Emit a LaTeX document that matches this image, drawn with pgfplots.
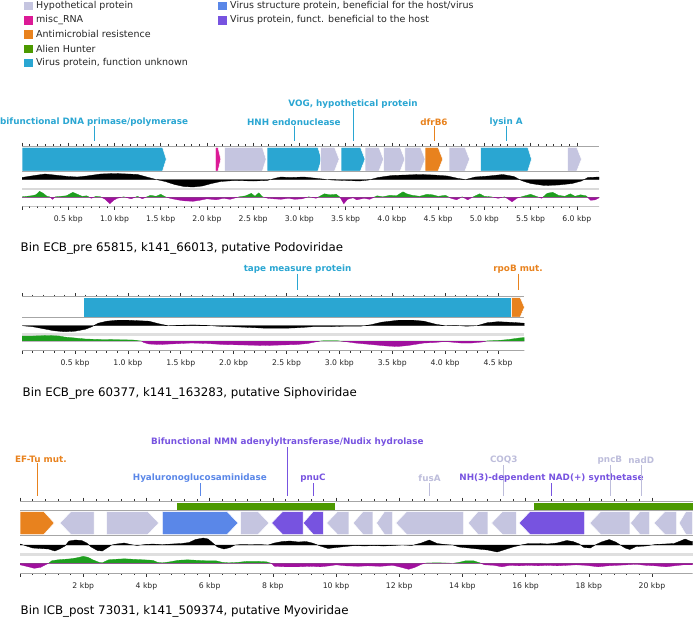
\documentclass[border=0pt]{standalone}
\usepackage{pgfplots}
\pgfplotsset{compat=1.18}
\usepackage{pgfplotstable}
\usepackage{fontspec}
\setmainfont{DejaVu Sans}

\definecolor{hyp}{HTML}{C5C5E0}
\definecolor{misc}{HTML}{DC1A96}
\definecolor{amr}{HTML}{E8821E}
\definecolor{alien}{HTML}{4C9900}
\definecolor{vunk}{HTML}{2AA6D2}
\definecolor{vstr}{HTML}{5A87E8}
\definecolor{vben}{HTML}{7753E0}
\definecolor{skp}{HTML}{1E9E1E}
\definecolor{skn}{HTML}{A0109E}
\definecolor{hyplab}{HTML}{BDBDDB}

% ---------- GC content (px deviation from mean) ----------
\pgfplotstableread{
x v
0 0
0.00 2
0.10 3.5
0.25 5.5
0.35 4.5
0.50 3
0.60 2.5
0.70 3.5
0.85 5.5
1.00 6
1.15 5.5
1.25 5
1.35 2.5
1.45 0
1.55 -2
1.65 -5
1.75 -7
1.85 -7.5
1.95 -6.5
2.05 -4
2.15 -2
2.30 -1
2.50 -1.5
2.65 -1
2.75 1.5
2.80 2.5
2.90 2
3.05 2.5
3.20 1
3.35 -0.5
3.50 -1
3.65 -1.5
3.75 -0.5
3.85 2
4.00 4
4.15 4.5
4.30 5
4.45 4.5
4.60 3.5
4.72 1
4.80 0
4.90 2.5
5.05 3.5
5.20 5
5.32 3
5.40 -1
5.50 -4
5.65 -6
5.80 -5.5
5.95 -4
6.05 -1.5
6.12 2
6.24 2.5
6.24 0
}\gcA
\pgfplotstableread{
x v
0 0
0.00 0.5
0.05 1
0.10 1.5
0.15 2.5
0.19 6
0.23 4
0.27 1
0.30 0.5
0.33 -2
0.36 0.5
0.42 1
0.48 1.5
0.55 5
0.60 3
0.65 1
0.70 1.5
0.75 -1
0.80 1
0.85 0.5
0.90 -2
0.95 -6.5
0.99 -3
1.03 -1
1.10 0.5
1.18 -1.5
1.25 1
1.30 -1.5
1.39 2
1.45 1
1.50 3
1.55 0.5
1.60 -1
1.68 -2.5
1.75 -3.5
1.85 -4
1.92 -3
2.00 -1.5
2.10 -2.5
2.18 -1
2.25 -2
2.35 0.5
2.42 1.5
2.48 4
2.52 1
2.56 4.5
2.60 0.5
2.66 -1
2.72 -1.5
2.80 -2
2.88 -1
2.95 -2
3.03 -1.5
3.10 0.5
3.18 -1
3.27 3.5
3.33 2.5
3.40 3
3.44 0
3.48 -6.5
3.52 -2
3.58 -0.5
3.62 -2.5
3.70 -1
3.76 -2
3.84 1.5
3.90 0.5
3.98 2
4.05 1.5
4.12 5.5
4.16 3.5
4.22 2
4.30 1
4.38 3
4.44 2.5
4.50 1
4.58 2
4.64 -1
4.70 -2.5
4.76 0.5
4.82 -2.5
4.88 0.5
4.95 3.5
5.00 1
5.07 0.5
5.15 -1
5.22 0.5
5.30 -4.5
5.35 -1
5.42 1
5.50 3
5.56 1
5.62 -1
5.68 4
5.74 5
5.80 2
5.87 1
5.93 3.5
5.98 1
6.04 2.5
6.10 1.5
6.15 -3
6.20 -2.5
6.24 -0.5
6.24 0
}\skA
\pgfplotstableread{
x v
0 0
0.10 -1
0.20 -3
0.30 -5
0.40 -6
0.50 -5.5
0.60 -3.5
0.66 -1
0.72 2.5
0.80 4.5
0.90 5.5
1.00 5.5
1.10 5
1.20 4.5
1.29 2
1.38 0
1.50 0.5
1.62 0.8
1.75 0.3
1.85 -0.5
1.98 -1
2.10 -1.5
2.30 -2.5
2.50 -2.5
2.61 -2
2.75 -1
2.90 -1
3.05 -0.5
3.20 -0.5
3.30 1
3.40 3.5
3.56 5.5
3.70 5.5
3.80 4.5
3.91 1.5
4.00 0
4.10 0.3
4.20 -0.5
4.30 0
4.40 3
4.50 4
4.60 3.5
4.68 3
4.75 2.5
4.75 0
}\gcB
\pgfplotstableread{
x v
0 0
0.00 5
0.10 5
0.25 5.5
0.35 5
0.40 4
0.50 3
0.60 2
0.75 1.5
0.90 1.3
1.05 1
1.10 0.3
1.13 0
1.15 -1.5
1.20 -3
1.30 -3.5
1.40 -3
1.50 -2.5
1.60 -2
1.75 -2.5
1.90 -3.5
2.10 -4
2.30 -4.5
2.45 -4
2.60 -3.5
2.70 -2.5
2.77 -1
2.82 0
2.85 0.3
2.98 0.3
3.05 -0.5
3.15 -2
3.30 -3.5
3.45 -5
3.55 -5.5
3.65 -4.5
3.80 -2
3.90 -1.5
4.00 -0.5
4.05 -1
4.15 -2
4.25 -2
4.35 -1
4.40 0.2
4.50 0.5
4.60 1.5
4.70 3
4.75 3.5
4.75 0
}\skB
\pgfplotstableread{
x v
0 0
0.00 1
0.20 -1
0.40 -3
0.65 -3.5
0.90 -4
1.10 -6
1.25 -4
1.42 -1
1.55 4
1.75 5
1.95 4.5
2.11 2
2.25 -2
2.45 -5.5
2.60 -6
2.75 -3
2.90 0
3.05 1
3.30 2
3.50 0.5
3.70 -0.5
3.95 0.5
4.20 1
4.50 0.3
4.80 1
5.10 1.5
5.35 2.5
5.55 5.5
5.80 7
5.95 6
6.10 2
6.25 -2
6.45 -4
6.65 -2.5
6.80 0
7.00 0.5
7.30 0.3
7.60 0.5
7.85 0
8.05 2
8.30 3.5
8.55 4
8.80 3
9.05 3.5
9.25 2
9.50 -1
9.75 -3.5
10.00 -2.5
10.30 -1.5
10.60 -0.5
10.90 -1
11.20 -0.5
11.50 -1
11.80 -0.5
12.10 0
12.40 -0.5
12.70 2
12.95 5
13.20 1.5
13.45 0.5
13.70 0
13.90 -2
14.20 -3
14.50 -4
14.80 -5
15.10 -7
15.35 -4.5
15.60 -2
15.85 0
16.10 1.5
16.40 1.5
16.70 1
17.00 2
17.30 4.5
17.50 3.5
17.70 1
17.85 -2.5
18.05 -3
18.20 0
18.40 3
18.65 5.5
18.85 3
19.00 0
19.15 -3
19.30 -4.5
19.50 -1.5
19.80 -1
20.10 0.5
20.40 1
20.70 1.5
20.90 4
21.05 6
21.20 4
21.29 3.5
21.29 0
}\gcC
\pgfplotstableread{
x v
0 0
0.00 -1.5
0.20 -3
0.45 -5
0.65 -4
0.80 -1.5
0.90 0
1.00 2.5
1.20 3.5
1.40 4
1.60 4.5
1.80 5.5
2.00 7
2.15 6
2.30 3.5
2.50 1
2.60 0.5
2.80 3.5
3.00 4
3.30 4.5
3.60 4
3.90 3.5
4.20 3
4.35 1
4.50 0.5
4.75 1.5
5.00 3
5.30 3.5
5.60 3
5.90 2.5
6.20 2.5
6.40 1
6.60 0.5
6.90 1
7.20 2
7.50 2
7.80 1.5
7.95 0
8.05 -3
8.40 -3.5
8.80 -3.5
9.20 -3
9.50 -3.5
9.80 -2.5
10.00 -1.5
10.30 -2.5
10.70 -3
11.00 -2.5
11.40 -3
11.80 -2
12.00 -3.5
12.30 -6
12.50 -4
12.70 -1
12.85 0.3
13.20 0.5
13.50 0.3
13.70 0
13.90 1
14.10 2.5
14.35 2.5
14.55 0.5
14.70 -1.5
15.00 -2
15.25 -3.5
15.50 -2
15.80 -2.5
16.10 -2
16.40 -2.5
16.70 -2
17.00 -2.5
17.30 -2
17.60 -1.5
17.90 -2
18.30 -3.5
18.60 -2.5
18.90 -2
19.20 -1.5
19.50 -1
19.80 -2
20.10 -2.5
20.45 -3.5
20.70 -2.5
21.00 -1.5
21.29 -1.5
21.29 0
}\skC

% ---------- gene arrows ----------
\def\GT{0}\def\GB{0}
\newcommand{\gene}[5]{%
  \pgfmathsetmacro{\gH}{min(#5,0.5*(#2-#1))}%
  \pgfmathsetmacro{\gM}{(\GT+\GB)/2}%
  \ifnum#3=1
    \pgfmathsetmacro{\gK}{#2-\gH}%
    \edef\tmp{\noexpand\addplot[fill=#4,draw=white,line width=0.5pt] coordinates {(#1,\GB) (\gK,\GB) (#2,\gM) (\gK,\GT) (#1,\GT)} -- cycle;}\tmp
  \fi
  \ifnum#3=2
    \pgfmathsetmacro{\gK}{#1+\gH}%
    \edef\tmp{\noexpand\addplot[fill=#4,draw=white,line width=0.5pt] coordinates {(#2,\GB) (\gK,\GB) (#1,\gM) (\gK,\GT) (#2,\GT)} -- cycle;}\tmp
  \fi
  \ifnum#3=0
    \edef\tmp{\noexpand\addplot[fill=#4,draw=white,line width=0.5pt] coordinates {(#1,\GB) (#2,\GB) (#2,\GT) (#1,\GT)} -- cycle;}\tmp
  \fi
}

\pgfplotsset{
  mainax/.style={scale only axis, clip=false, anchor=south west, xmin=0, ymin=0,
    enlargelimits=false, hide y axis, tick align=outside,
    axis line style={draw=gray!70, line width=0.8pt},
    major tick length=3.5pt, minor tick length=2pt,
    tick style={black!80, line width=0.5pt},
    xticklabel style={font=\fontsize{7.7}{9}\selectfont, text=black!85, yshift=-2.5pt}},
  trk/.style={scale only axis, hide axis, anchor=south west, xmin=0, enlargelimits=false},
}
\tikzset{lab/.style={font=\fontsize{8.8}{10}\selectfont\bfseries, inner sep=0pt}}

\begin{document}
\begin{tikzpicture}[x=1pt,y=1pt]
\path[use as bounding box] (0pt,0pt) rectangle (693pt,-619pt);

% ---------- legend ----------
\begin{scope}[every node/.style={font=\fontsize{9.5}{11}\selectfont, text=black!85, anchor=west, inner sep=0pt}]
\fill[hyp]  (24.3pt,-1.8pt) rectangle (33.3pt,-10.2pt);   \node at (36pt,-6pt) {Hypothetical protein};
\fill[misc] (24.3pt,-16.1pt) rectangle (33.3pt,-24.5pt);  \node at (36pt,-20.3pt) {misc\_RNA};
\fill[amr]  (24.3pt,-30.1pt) rectangle (33.3pt,-38.5pt);  \node at (36pt,-34.3pt) {Antimicrobial resistence};
\fill[alien](24.3pt,-44.5pt) rectangle (33.3pt,-52.9pt);  \node at (36pt,-48.7pt) {Alien Hunter};
\fill[vunk] (24.3pt,-58.8pt) rectangle (33.3pt,-67.2pt);  \node at (36pt,-63pt) {Virus protein, function unknown};
\fill[vstr] (218.3pt,-1.8pt) rectangle (227.3pt,-10.2pt); \node at (230pt,-6pt) {Virus structure protein, beneficial for the host/virus};
\fill[vben] (218.3pt,-16.1pt) rectangle (227.3pt,-24.5pt);\node at (230pt,-20.3pt) {Virus protein, funct. beneficial to the host};
\end{scope}

% ================= Panel 1 =================
\begin{axis}[mainax, xmax=6.24, ymax=60, width=577pt, height=60pt, at={(22pt,-206pt)},
  xtick={0,0.5,1,1.5,2,2.5,3,3.5,4,4.5,5,5.5,6},
  xticklabels={,0.5 kbp,1.0 kbp,1.5 kbp,2.0 kbp,2.5 kbp,3.0 kbp,3.5 kbp,4.0 kbp,4.5 kbp,5.0 kbp,5.5 kbp,6.0 kbp},
  minor tick num=5]
\def\GT{58.6}\def\GB{35}
\gene{0}{1.56}{1}{vunk}{0.04}
\gene{2.09}{2.15}{1}{misc}{0.03}
\gene{2.19}{2.64}{1}{hyp}{0.04}
\gene{2.65}{3.24}{1}{vunk}{0.04}
\gene{3.23}{3.43}{1}{hyp}{0.05}
\gene{3.45}{3.71}{1}{vunk}{0.05}
\gene{3.71}{3.91}{1}{hyp}{0.05}
\gene{3.91}{4.14}{1}{hyp}{0.05}
\gene{4.14}{4.36}{1}{hyp}{0.05}
\gene{4.36}{4.55}{1}{amr}{0.05}
\gene{4.62}{4.84}{1}{hyp}{0.05}
\gene{4.96}{5.51}{1}{vunk}{0.04}
\gene{5.90}{6.05}{1}{hyp}{0.05}
\draw[gray!70, line width=1pt] (axis cs:0,34.4) -- (axis cs:6.24,34.4);
\draw[gray!30, line width=2pt] (axis cs:0,17) -- (axis cs:6.24,17);
\node[lab, text=vunk] at (axis cs:0.78,84) {bifunctional DNA primase/polymerase};
\draw[vunk, line width=0.7pt] (axis cs:0.78,80) -- (axis cs:0.78,65);
\node[lab, text=vunk] at (axis cs:2.94,84) {HNH endonuclease};
\draw[vunk, line width=0.7pt] (axis cs:2.94,80) -- (axis cs:2.94,65);
\node[lab, text=vunk] at (axis cs:3.58,102) {VOG, hypothetical protein};
\draw[vunk, line width=0.7pt] (axis cs:3.58,98) -- (axis cs:3.58,65);
\node[lab, text=amr] at (axis cs:4.455,84) {dfrB6};
\draw[amr, line width=0.7pt] (axis cs:4.455,80) -- (axis cs:4.455,65);
\node[lab, text=vunk] at (axis cs:5.235,84) {lysin A};
\draw[vunk, line width=0.7pt] (axis cs:5.235,80) -- (axis cs:5.235,65);
\end{axis}
\begin{axis}[trk, xmax=6.24, ymin=-9, ymax=7.5, width=577pt, height=16.5pt, at={(22pt,-188.5pt)}]
\addplot[fill=black, draw=black, line width=0.3pt] table[x=x,y=v]{\gcA} -- cycle;
\end{axis}
\begin{axis}[trk, xmax=6.24, ymin=0, ymax=7.3, width=577pt, height=7.3pt, at={(22pt,-197.3pt)}]
\addplot[fill=skp, draw=skp, line width=0.3pt] table[x=x,y=v]{\skA} -- cycle;
\end{axis}
\begin{axis}[trk, xmax=6.24, ymin=-8.5, ymax=0, width=577pt, height=8.5pt, at={(22pt,-205.8pt)}]
\addplot[fill=skn, draw=skn, line width=0.3pt] table[x=x,y=v]{\skA} -- cycle;
\end{axis}
\node[anchor=west, font=\fontsize{11.8}{14}\selectfont, inner sep=0pt] at (20.5pt,-248pt) {Bin ECB\_pre 65815, k141\_66013, putative Podoviridae};

% ================= Panel 2 =================
\begin{axis}[mainax, xmax=4.75, ymax=54, width=502.3pt, height=54pt, at={(22.1pt,-350.5pt)},
  xtick={0,0.5,1,1.5,2,2.5,3,3.5,4,4.5},
  xticklabels={,0.5 kbp,1.0 kbp,1.5 kbp,2.0 kbp,2.5 kbp,3.0 kbp,3.5 kbp,4.0 kbp,4.5 kbp},
  minor tick num=4]
\def\GT{53}\def\GB{33.4}
\gene{0.58}{4.63}{0}{vunk}{0.04}
\gene{4.63}{4.75}{1}{amr}{0.04}
\draw[gray!70, line width=1pt] (axis cs:0,32.6) -- (axis cs:4.75,32.6);
\draw[gray!25, line width=3pt] (axis cs:0,16.5) -- (axis cs:4.75,16.5);
\node[lab, text=vunk] at (axis cs:2.605,81.5) {tape measure protein};
\draw[vunk, line width=0.7pt] (axis cs:2.605,77) -- (axis cs:2.605,60.5);
\node[lab, text=amr] at (axis cs:4.69,81.5) {rpoB mut.};
\draw[amr, line width=0.7pt] (axis cs:4.69,77) -- (axis cs:4.69,60.5);
\end{axis}
\begin{axis}[trk, xmax=4.75, ymin=-7.3, ymax=6.7, width=502.3pt, height=14pt, at={(22.1pt,-333pt)}]
\addplot[fill=black, draw=black, line width=0.3pt] table[x=x,y=v]{\gcB} -- cycle;
\end{axis}
\begin{axis}[trk, xmax=4.75, ymin=0, ymax=6.5, width=502.3pt, height=6.5pt, at={(22.1pt,-341pt)}]
\addplot[fill=skp, draw=skp, line width=0.3pt] table[x=x,y=v]{\skB} -- cycle;
\end{axis}
\begin{axis}[trk, xmax=4.75, ymin=-8, ymax=0, width=502.3pt, height=8pt, at={(22.1pt,-349pt)}]
\addplot[fill=skn, draw=skn, line width=0.3pt] table[x=x,y=v]{\skB} -- cycle;
\end{axis}
\node[anchor=west, font=\fontsize{11.8}{14}\selectfont, inner sep=0pt] at (22.5pt,-393pt) {Bin ECB\_pre 60377, k141\_163283, putative Siphoviridae};

% ================= Panel 3 =================
\begin{axis}[mainax, xmax=21.29, ymax=72, width=672.6pt, height=72pt, at={(20.1pt,-573pt)},
  xtick={0,2,4,6,8,10,12,14,16,18,20},
  xticklabels={,2 kbp,4 kbp,6 kbp,8 kbp,10 kbp,12 kbp,14 kbp,16 kbp,18 kbp,20 kbp},
  minor tick num=4]
\def\GT{61.5}\def\GB{38.5}
\addplot[fill=alien, draw=none] coordinates {(4.98,63) (9.98,63) (9.98,70.5) (4.98,70.5)} -- cycle;
\addplot[fill=alien, draw=none] coordinates {(16.28,63) (21.29,63) (21.29,70.5) (16.28,70.5)} -- cycle;
\draw[gray!70, line width=1pt] (axis cs:0,62.6) -- (axis cs:21.29,62.6);
\gene{0}{1.08}{1}{amr}{0.33}
\gene{1.26}{2.34}{2}{hyp}{0.35}
\gene{2.74}{4.39}{1}{hyp}{0.35}
\gene{4.50}{6.90}{1}{vstr}{0.35}
\gene{6.98}{7.88}{1}{hyp}{0.35}
\gene{7.96}{8.96}{2}{vben}{0.35}
\gene{8.96}{9.60}{2}{vben}{0.35}
\gene{9.70}{10.41}{2}{hyp}{0.35}
\gene{10.54}{11.17}{2}{hyp}{0.35}
\gene{11.28}{11.79}{2}{hyp}{0.3}
\gene{11.89}{14.04}{2}{hyp}{0.35}
\gene{14.18}{14.81}{2}{hyp}{0.35}
\gene{14.92}{15.71}{2}{hyp}{0.35}
\gene{15.79}{17.87}{2}{vben}{0.35}
\gene{18.03}{19.30}{2}{hyp}{0.35}
\gene{19.32}{19.93}{2}{hyp}{0.3}
\gene{20.06}{20.78}{2}{hyp}{0.35}
\gene{20.86}{21.29}{2}{hyp}{0.3}
\draw[gray!70, line width=1pt] (axis cs:0,37.2) -- (axis cs:21.29,37.2);
\draw[gray!25, line width=3pt] (axis cs:0,19) -- (axis cs:21.29,19);
\node[lab, text=amr] at (axis cs:0.66,114) {EF-Tu mut.};
\draw[amr, line width=0.7pt] (axis cs:0.55,110) -- (axis cs:0.55,77);
\node[lab, text=vben] at (axis cs:8.46,131) {Bifunctional NMN adenylyltransferase/Nudix hydrolase};
\draw[vben, line width=0.7pt] (axis cs:8.46,126) -- (axis cs:8.46,77);
\node[lab, text=vstr] at (axis cs:5.69,95) {Hyaluronoglucosaminidase};
\draw[vstr, line width=0.7pt] (axis cs:5.69,90) -- (axis cs:5.69,77);
\node[lab, text=vben] at (axis cs:9.27,95) {pnuC};
\draw[vben, line width=0.7pt] (axis cs:9.27,90) -- (axis cs:9.27,77);
\node[lab, text=hyplab] at (axis cs:12.96,95) {fusA};
\draw[hyplab, line width=0.7pt] (axis cs:12.96,90) -- (axis cs:12.96,77);
\node[lab, text=hyplab] at (axis cs:15.31,113) {COQ3};
\draw[hyplab, line width=0.7pt] (axis cs:15.31,108) -- (axis cs:15.31,77);
\node[lab, text=vben] at (axis cs:16.82,95) {NH(3)-dependent NAD(+) synthetase};
\draw[vben, line width=0.7pt] (axis cs:16.82,90) -- (axis cs:16.82,77);
\node[lab, text=hyplab] at (axis cs:18.67,113) {pncB};
\draw[hyplab, line width=0.7pt] (axis cs:18.67,108) -- (axis cs:18.67,77);
\node[lab, text=hyplab] at (axis cs:19.66,113) {nadD};
\draw[hyplab, line width=0.7pt] (axis cs:19.66,108) -- (axis cs:19.66,77);
\end{axis}
\begin{axis}[trk, xmax=21.29, ymin=-8, ymax=8, width=672.6pt, height=16pt, at={(20.1pt,-553pt)}]
\addplot[fill=black, draw=black, line width=0.3pt] table[x=x,y=v]{\gcC} -- cycle;
\end{axis}
\begin{axis}[trk, xmax=21.29, ymin=0, ymax=8, width=672.6pt, height=8pt, at={(20.1pt,-563.3pt)}]
\addplot[fill=skp, draw=skp, line width=0.3pt] table[x=x,y=v]{\skC} -- cycle;
\end{axis}
\begin{axis}[trk, xmax=21.29, ymin=-8.5, ymax=0, width=672.6pt, height=8.5pt, at={(20.1pt,-571.8pt)}]
\addplot[fill=skn, draw=skn, line width=0.3pt] table[x=x,y=v]{\skC} -- cycle;
\end{axis}
\node[anchor=west, font=\fontsize{11.8}{14}\selectfont, inner sep=0pt] at (20.5pt,-611.7pt) {Bin ICB\_post 73031, k141\_509374, putative Myoviridae};
\end{tikzpicture}
\end{document}
